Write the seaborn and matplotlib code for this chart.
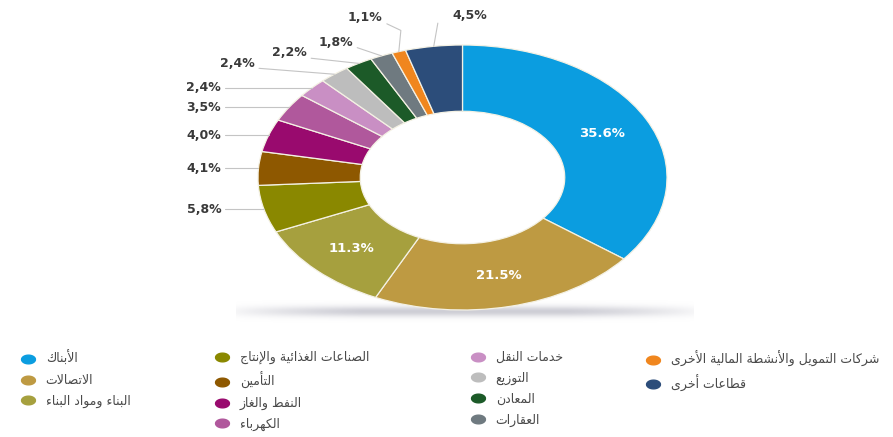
import numpy as np
import matplotlib
matplotlib.use("Agg")
import matplotlib.pyplot as plt
from matplotlib.lines import Line2D
import seaborn as sns

# ---- data -------------------------------------------------------------
sectors = [
    "الأبناك",
    "الاتصالات",
    "البناء ومواد البناء",
    "الصناعات الغذائية والإنتاج",
    "التأمين",
    "النفط والغاز",
    "الكهرباء",
    "خدمات النقل",
    "التوزيع",
    "المعادن",
    "العقارات",
    "شركات التمويل والأنشطة المالية الأخرى",
    "قطاعات أخرى",
]
shares = [35.6, 21.5, 11.3, 5.8, 4.1, 4.0, 3.5, 2.4, 2.4, 2.2, 1.8, 1.1, 4.5]
colors = [
    "#0b9de0", "#be9a42", "#a6a03e", "#8a8800", "#8e5800", "#990a6e",
    "#b0589c", "#c98fc4", "#bdbdbd", "#1c5a28", "#6f7a80", "#f0861e",
    "#2c4d7a",
]
inside_idx = [0, 1, 2]          # slices labelled inside the ring

# ---- Arabic shaping (matplotlib has no bidi / contextual shaping) -----
_DUAL = {'ب': 0xFE8F, 'ت': 0xFE95, 'ث': 0xFE99, 'ج': 0xFE9D, 'ح': 0xFEA1,
         'خ': 0xFEA5, 'س': 0xFEB1, 'ش': 0xFEB5, 'ص': 0xFEB9, 'ض': 0xFEBD,
         'ط': 0xFEC1, 'ظ': 0xFEC5, 'ع': 0xFEC9, 'غ': 0xFECD, 'ف': 0xFED1,
         'ق': 0xFED5, 'ك': 0xFED9, 'ل': 0xFEDD, 'م': 0xFEE1, 'ن': 0xFEE5,
         'ه': 0xFEE9, 'ي': 0xFEF1, 'ئ': 0xFE89}
_RIGHT = {'آ': 0xFE81, 'أ': 0xFE83, 'ؤ': 0xFE85, 'إ': 0xFE87, 'ا': 0xFE8D,
          'ة': 0xFE93, 'د': 0xFEA9, 'ذ': 0xFEAB, 'ر': 0xFEAD, 'ز': 0xFEAF,
          'و': 0xFEED, 'ى': 0xFEEF}
_LAMALEF = {'آ': 0xFEF5, 'أ': 0xFEF7, 'إ': 0xFEF9, 'ا': 0xFEFB}


def shape_ar(text):
    out = []
    i, n = 0, len(text)
    while i < n:
        c = text[i]
        prev = text[i - 1] if i > 0 else ''
        nxt = text[i + 1] if i + 1 < n else ''
        jp = prev in _DUAL
        if c == 'ل' and nxt in _LAMALEF:
            out.append(chr(_LAMALEF[nxt] + (1 if jp else 0)))
            i += 2
            continue
        if c in _DUAL:
            jn = nxt in _DUAL or nxt in _RIGHT
            off = 3 if (jp and jn) else 1 if jp else 2 if jn else 0
            out.append(chr(_DUAL[c] + off))
        elif c in _RIGHT:
            out.append(chr(_RIGHT[c] + (1 if jp else 0)))
        else:
            out.append(c)
        i += 1
    return ''.join(out)[::-1]


# ---- figure -----------------------------------------------------------
sns.set_theme(style="white")
plt.rcParams["font.family"] = ["DejaVu Sans"]

W, H = 893, 437
fig = plt.figure(figsize=(W / 100, H / 100), dpi=100)
fig.patch.set_facecolor("white")


def fx(px):
    return px / W


def fy(py):
    return 1 - py / H


# soft shadow strip under the ring
sh = fig.add_axes([fx(236), fy(324), fx(458), 24 / H], zorder=0)
yy = np.linspace(-1, 1, 60)[:, None]
xx = np.linspace(-1, 1, 400)[None, :]
shade = np.exp(-((yy + 0.05) / 0.45) ** 2) * np.clip(1.2 - xx ** 2, 0, 1)
rgba = np.zeros(shade.shape + (4,))
rgba[..., :3] = np.array([0.68, 0.68, 0.73])
rgba[..., 3] = 0.6 * shade
sh.imshow(rgba, aspect="auto", interpolation="bilinear")
sh.axis("off")

# ring: stretched horizontally by using a non-square axes
ax = fig.add_axes([fx(258), fy(310), fx(667) - fx(258), 265 / H], zorder=2)
ax.patch.set_alpha(0)
wedges, _ = ax.pie(
    shares, colors=colors, startangle=90, counterclock=False, radius=1.0,
    wedgeprops=dict(width=0.5, edgecolor="#f4f1e4", linewidth=0.9),
)
ax.set_aspect("auto")
ax.set_xlim(-1, 1)
ax.set_ylim(-1, 1)
ax.axis("off")

fracs = np.array(shares) / np.sum(shares)
ends = np.cumsum(fracs)
mids = np.deg2rad(90 - 360 * (ends - fracs / 2))
ex, ey = np.cos(mids), np.sin(mids)

# labels inside the ring
for i in inside_idx:
    r = 0.76
    ax.text(r * ex[i], r * ey[i], f"{shares[i]:.1f}%", ha="center",
            va="center", color="white", fontsize=9.5, fontweight="bold")

lab_kw = dict(fontsize=9, fontweight="bold", color="#3a3a3a", va="center")
line_kw = dict(color="#c4c4c4", lw=0.8, clip_on=False)


def pct(v):
    return f"{v:.1f}".replace(".", ",") + "%"


# left column of labels, level with their slices
for i in [3, 4, 5, 6, 7]:
    lx, ly = -1.18, ey[i]
    ax.text(lx, ly, pct(shares[i]), ha="right", **lab_kw)
    ax.plot([lx + 0.02, ex[i]], [ly, ey[i]], **line_kw)

# crowded top slices: labels staggered above
top_layout = {8: (-1.015, 0.864), 9: (-0.76, 0.94), 10: (-0.535, 1.02)}
for i, (lx, ly) in top_layout.items():
    ax.text(lx, ly, pct(shares[i]), ha="right", **lab_kw)
    ax.plot([lx + 0.02, ex[i]], [ly - 0.04, ey[i]], **line_kw)

i = 11
lx, ly = -0.39, 1.21
ax.text(lx, ly, pct(shares[i]), ha="right", **lab_kw)
ax.plot([lx + 0.02, ex[i] + 0.01, ex[i]], [ly - 0.05, ly - 0.1, ey[i]], **line_kw)

i = 12
lx, ly = -0.05, 1.225
ax.text(lx, ly, pct(shares[i]), ha="left", **lab_kw)
ax.plot([ex[i], ex[i] + 0.02], [ey[i], ly - 0.06], **line_kw)

# legend in four columns
theta = np.linspace(0, 2 * np.pi, 40)
ell = np.column_stack([1.6 * np.cos(theta), np.sin(theta)])


def handle(c):
    return Line2D([], [], ls="none", marker=ell, markersize=10,
                  markerfacecolor=c, markeredgecolor=c)


columns = [[0, 1, 2], [3, 4, 5, 6], [7, 8, 9, 10], [11, 12]]
col_x = [22, 216, 472, 647]
for xs, idx in zip(col_x, columns):
    leg = fig.legend(
        handles=[handle(colors[k]) for k in idx],
        labels=[shape_ar(sectors[k]) for k in idx],
        loc="upper left", bbox_to_anchor=(fx(xs), fy(351)),
        frameon=False, fontsize=9, handlelength=1.0, handletextpad=0.9,
        labelspacing=0.62, borderpad=0, borderaxespad=0,
    )
    for t in leg.get_texts():
        t.set_color("#4a4a4a")

fig.savefig("out.png", dpi=100, facecolor="white")
